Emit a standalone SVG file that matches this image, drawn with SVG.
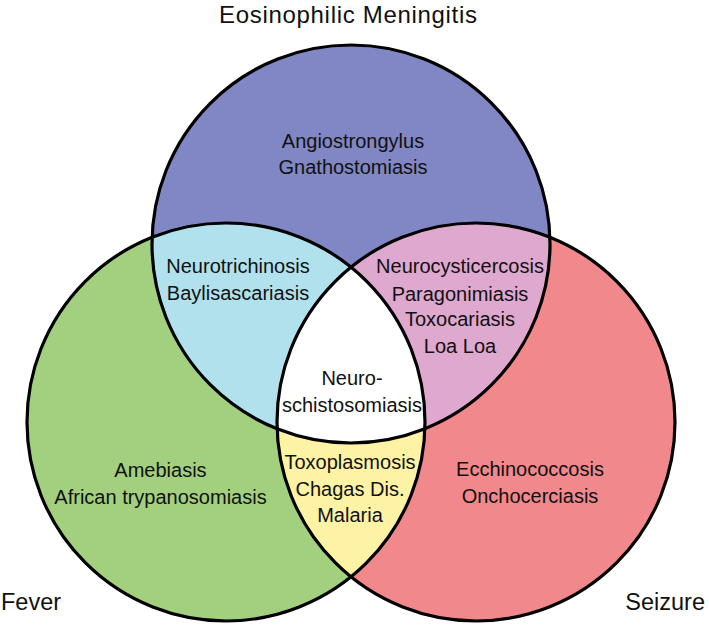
<svg xmlns="http://www.w3.org/2000/svg" width="709" height="626" viewBox="0 0 709 626">
<style>
.lbl{font-family:"Liberation Sans",Arial,sans-serif;font-size:20px;fill:#111;text-anchor:middle}
.big{font-family:"Liberation Sans",Arial,sans-serif;fill:#111}
.ring{fill:none;stroke:#000;stroke-width:3.2}
</style>
<defs>
<clipPath id="cT"><circle cx="351" cy="244" r="199"/></clipPath>
<clipPath id="cL"><circle cx="226" cy="422" r="199"/></clipPath>
<clipPath id="cR"><circle cx="476" cy="422" r="199"/></clipPath>
</defs>
<rect width="709" height="626" fill="#fff"/>
<g id="fills">
<circle cx="351" cy="244" r="199" fill="#8087c4"/>
<circle cx="226" cy="422" r="199" fill="#a3d07e"/>
<circle cx="476" cy="422" r="199" fill="#f1888b"/>
<circle cx="226" cy="422" r="199" fill="#b1e1ed" clip-path="url(#cT)"/>
<circle cx="476" cy="422" r="199" fill="#dfa8ce" clip-path="url(#cT)"/>
<circle cx="476" cy="422" r="199" fill="#fef3a5" clip-path="url(#cL)"/>
<g clip-path="url(#cT)"><circle cx="476" cy="422" r="199" fill="#fff" clip-path="url(#cL)"/></g>
</g>
<g id="outlines">
<circle class="ring" cx="351" cy="244" r="199"/>
<circle class="ring" cx="226" cy="422" r="199"/>
<circle class="ring" cx="476" cy="422" r="199"/>
</g>
<g id="eosinophilic-meningitis">
<text class="big" x="348" y="23" font-size="24" text-anchor="middle" textLength="258">Eosinophilic Meningitis</text>
<text class="lbl" x="353" y="148">Angiostrongylus</text>
<text class="lbl" x="353" y="174">Gnathostomiasis</text>
</g>
<g id="fever">
<text class="big" x="1" y="610" font-size="23.5">Fever</text>
<text class="lbl" x="160.5" y="477">Amebiasis</text>
<text class="lbl" x="160.5" y="504">African trypanosomiasis</text>
</g>
<g id="seizure">
<text class="big" x="705" y="610" font-size="23.5" text-anchor="end">Seizure</text>
<text class="lbl" x="530" y="476">Ecchinococcosis</text>
<text class="lbl" x="530" y="503">Onchocerciasis</text>
</g>
<g id="meningitis-fever">
<text class="lbl" x="238" y="273">Neurotrichinosis</text>
<text class="lbl" x="238" y="300">Baylisascariasis</text>
</g>
<g id="meningitis-seizure">
<text class="lbl" x="460" y="273">Neurocysticercosis</text>
<text class="lbl" x="460" y="301">Paragonimiasis</text>
<text class="lbl" x="460" y="326">Toxocariasis</text>
<text class="lbl" x="460" y="353">Loa Loa</text>
</g>
<g id="fever-seizure">
<text class="lbl" x="350" y="469">Toxoplasmosis</text>
<text class="lbl" x="350" y="496">Chagas Dis.</text>
<text class="lbl" x="350" y="522">Malaria</text>
</g>
<g id="all-three">
<text class="lbl" x="352" y="385">Neuro-</text>
<text class="lbl" x="352" y="412">schistosomiasis</text>
</g>
</svg>
